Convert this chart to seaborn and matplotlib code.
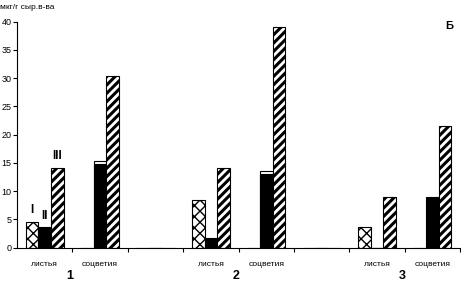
import pandas as pd
import matplotlib
matplotlib.use("Agg")
import matplotlib.pyplot as plt
import seaborn as sns

# 8 slots along x: leaves/inflorescences for three groups, blank gaps between
slots = ["л1", "с1", "g1", "л2", "с2", "g2", "л3", "с3"]
slot_labels = ["листья", "соцветия", "", "листья", "соцветия", "", "листья", "соцветия"]
series = ["I", "II", "III"]
vals_I = [4.6, 0, 0, 8.4, 0, 0, 3.6, 0]
vals_II = [3.6, 14.8, 0, 1.7, 13.0, 0, 0, 9.0]
vals_III = [14.1, 30.3, 0, 14.1, 39.0, 0, 9.0, 21.5]
# white caps sitting on top of the black bars (inflorescences 1 and 2)
caps_II = [0, 15.3, 0, 0, 13.6, 0, 0, 0]
group_names = ["1", "2", "3"]

rows = []
for s, vals in zip(series, [vals_I, vals_II, vals_III]):
    for slot, v in zip(slots, vals):
        rows.append({"slot": slot, "series": s, "value": v})
df = pd.DataFrame(rows)

plt.rcParams["font.family"] = ["Liberation Sans", "DejaVu Sans"]
plt.rcParams["hatch.linewidth"] = 2.2
plt.rcParams["hatch.color"] = "black"

fig = plt.figure(figsize=(4.61, 2.81), dpi=100)
ax = fig.add_axes([0.037, 0.119, 0.961, 0.804])

sns.barplot(data=df, x="slot", y="value", hue="series", order=slots,
            hue_order=series, width=0.69, dodge=True, legend=False, ax=ax,
            zorder=2)

styles = [("white", "xxx", 1.0), ("black", None, None), ("white", "////", 2.2)]
for cont, (fc, hatch, hlw) in zip(ax.containers, styles):
    for bar in cont:
        bar.set_facecolor(fc)
        bar.set_edgecolor("black")
        bar.set_linewidth(0.8)
        if hatch:
            bar.set_hatch(hatch)
            if hasattr(bar, "set_hatch_linewidth"):
                bar.set_hatch_linewidth(hlw)

# caps behind the black bars
ax.bar(range(len(slots)), caps_II, width=0.23, color="white", edgecolor="black",
       linewidth=0.8, zorder=1)

ax.set_xlim(-0.5, len(slots) - 0.5)
ax.set_ylim(0, 40)
ax.set_yticks(range(0, 41, 5))
ax.set_xticks([i + 0.5 for i in range(len(slots))])
ax.set_xticklabels([])
ax.set_xlabel("")
ax.set_ylabel("")
ax.tick_params(axis="y", labelsize=6.5, length=3, width=0.8, pad=1)
ax.tick_params(axis="x", length=3, width=0.8)
for side in ["top", "right"]:
    ax.spines[side].set_visible(False)
ax.spines["left"].set_linewidth(0.8)
ax.spines["bottom"].set_linewidth(0.8)

for i, lab in enumerate(slot_labels):
    ax.text(i, -3.0, lab, ha="center", va="center", fontsize=6)
for k, g in enumerate(group_names):
    ax.text(3 * k + 0.45, -5.1, g, ha="center", va="center", fontsize=9,
            fontweight="bold")

# series markers above the first group of bars
for off, s, v in zip([-0.23, 0.0, 0.23], series, [vals_I[0], vals_II[0], vals_III[0]]):
    ax.text(off, v + 1.0, s, ha="center", va="bottom", fontsize=8.5,
            fontweight="bold")

fig.text(0.0, 0.975, "мкг/г сыр.в-ва", ha="left", va="center", fontsize=6)
ax.text(7.3, 39.2, "Б", ha="center", va="center", fontsize=8, fontweight="bold")

fig.savefig("out.png", dpi=100)
